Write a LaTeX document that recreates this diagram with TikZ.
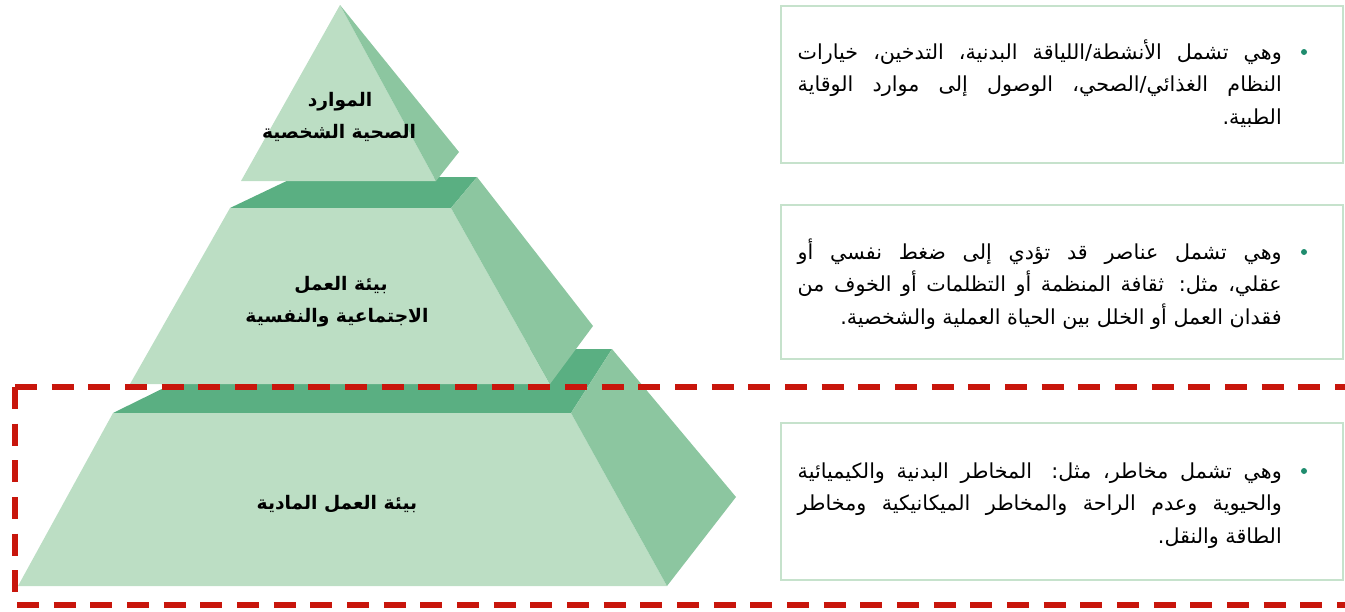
\documentclass[tikz,border=0pt]{standalone}
\usepackage{fontspec}
\TeXXeTstate=1
\newfontfamily\arabicfont[Script=Arabic]{DejaVu Sans}
\definecolor{frontc}{HTML}{BCDEC4}
\definecolor{sidec}{HTML}{8CC6A0}
\definecolor{topc}{HTML}{5AAF82}
\definecolor{boxc}{HTML}{C6E2CC}
\definecolor{dashc}{HTML}{C8160C}
\definecolor{dotc}{HTML}{1F8C6E}
\newlength\lnw \setlength\lnw{363pt}
\newcommand\jline[1]{\hbox to \lnw{\beginR #1\endR}}
\newcommand\lastline[1]{\hbox to \lnw{\hfill\beginR #1\endR}}
\newcommand\txtblock[1]{\vtop{\baselineskip=24.6pt\lineskiplimit=-20pt #1}}
\tikzset{
  bodytext/.style={anchor=base east, inner sep=0pt, font=\arabicfont\fontsize{15.5}{18}\selectfont},
  tierlabel/.style={anchor=base, inner sep=0pt, font=\arabicfont\bfseries\fontsize{14}{17}\selectfont},
  infobox/.style={draw=boxc, line width=1.1pt},
  bulletdot/.style={circle, fill=dotc, inner sep=0pt, minimum size=4.5pt},
  redline/.style={draw=dashc, line width=4.5pt, dash pattern=on 16.5pt off 11pt}
}
\begin{document}
\begin{tikzpicture}[x=0.75pt,y=-0.75pt]
\useasboundingbox (0,0) rectangle (1345,611);
% tier 3
\fill[topc] (113,413) -- (571,413) -- (612,349) -- (243,349) -- cycle;
\fill[frontc] (113,413) -- (571,413) -- (667,586) -- (18,586) -- cycle;
\fill[sidec] (571,413) -- (612,349) -- (736,497) -- (667,586) -- cycle;
% tier 2
\fill[topc] (230,208) -- (451,208) -- (477,177) -- (295,177) -- cycle;
\fill[frontc] (230,208) -- (451,208) -- (550,384) -- (130,384) -- cycle;
\fill[sidec] (451,208) -- (477,177) -- (593,326) -- (550,384) -- cycle;
% tier 1
\fill[frontc] (340,5) -- (436,181) -- (241,181) -- cycle;
\fill[sidec] (340,5) -- (459,152) -- (436,181) -- cycle;
% labels
\node[tierlabel] (t1a) at (340,106) {\beginR الموارد\endR};
\node[tierlabel] (t1b) at (339,138) {\beginR الصحية الشخصية\endR};
\node[tierlabel] (t2a) at (341,290) {\beginR بيئة العمل\endR};
\node[tierlabel] (t2b) at (337,322) {\beginR الاجتماعية والنفسية\endR};
\node[tierlabel] (t3a) at (337,509) {\beginR بيئة العمل المادية\endR};
% red dashed frame
\coordinate (fc) at (15,387);
\coordinate (fr) at (1360,387);
\coordinate (fb) at (15,605);
\coordinate (fbr) at (1360,605);
\draw[redline] (fc) -- (fr);
\draw[redline] (fc) -- (fb) -- (fbr);
% boxes
\draw[infobox] (781,6) rectangle (1343,163);
\draw[infobox] (781,205) rectangle (1343,359);
\draw[infobox] (781,423) rectangle (1343,580);
\node[bulletdot] (d1) at (1304,52) {};
\node[bulletdot] (d2) at (1304,252) {};
\node[bulletdot] (d3) at (1304,471) {};
\node[bodytext] (b1) at (1282,59) {\txtblock{%
\jline{وهي تشمل الأنشطة/اللياقة البدنية، التدخين، خيارات}
\jline{النظام الغذائي/الصحي، الوصول إلى موارد الوقاية}
\lastline{الطبية.}}};
\node[bodytext] (b2) at (1282,259) {\txtblock{%
\jline{وهي تشمل عناصر قد تؤدي إلى ضغط نفسي أو}
\jline{عقلي، مثل: ثقافة المنظمة أو التظلمات أو الخوف من}
\lastline{فقدان العمل أو الخلل بين الحياة العملية والشخصية.}}};
\node[bodytext] (b3) at (1282,478) {\txtblock{%
\jline{وهي تشمل مخاطر، مثل: المخاطر البدنية والكيميائية}
\jline{والحيوية وعدم الراحة والمخاطر الميكانيكية ومخاطر}
\lastline{الطاقة والنقل.}}};
\end{tikzpicture}
\end{document}
